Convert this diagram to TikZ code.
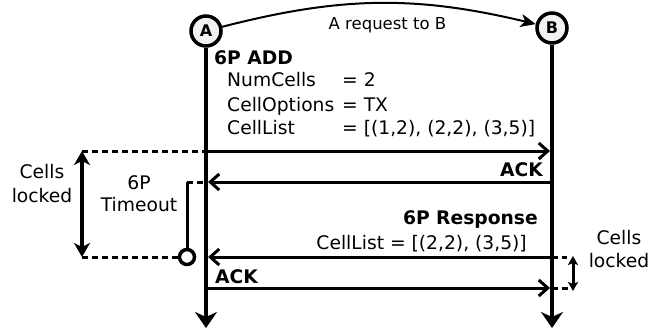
\documentclass[tikz,border=0pt]{standalone}
\usepackage{fontspec}
\setmainfont{DejaVu Sans}
\usepackage{tikz}
\usetikzlibrary{arrows.meta}
\definecolor{knoten}{RGB}{242,242,242}

\tikzset{
	entity/.style={circle, draw, line width=3.5pt, fill=knoten, minimum size=30pt, inner sep=0pt, font=\fontsize{16}{18}\selectfont\bfseries},
	lifeline/.style={line width=4.5pt, -{Stealth[length=16pt, width=22pt, inset=5pt]}},
	msg/.style={line width=3pt, -{Straight Barb[length=9pt, width=16pt]}},
	lbl/.style={inner sep=0pt, font=\fontsize{18.7}{22}\selectfont},
	dash line/.style={line width=3pt, dash pattern=on 6pt off 4pt},
	lock/.style={line width=3.5pt, {Stealth[length=14pt, width=16pt, inset=4pt]}-{Stealth[length=14pt, width=16pt, inset=4pt]}},
}

\begin{document}
\begin{tikzpicture}[x=1pt, y=-1pt]

	\useasboundingbox (0,0) rectangle (651,329);

	% the two nodes and their time lines
	\node[entity] (A) at (206,31) {A};
	\node[entity] (B) at (552,28) {B};
	\coordinate (Aend) at (206,328);
	\coordinate (Bend) at (552,328);
	\draw[lifeline] (A.south) -- (Aend);
	\draw[lifeline] (B.south) -- (Bend);

	\draw[line width=2pt, -{Stealth[length=15pt, width=13pt, inset=4pt]}] (A) to[bend left=14] (B);
	\node[lbl, font=\fontsize{16.5}{20}\selectfont, anchor=base] (req) at (387.5,30) {A request to B};

	% 6P ADD request
	\node[lbl, anchor=base west] (add) at (214,65) {\bfseries 6P ADD};
	\node[lbl, anchor=base west] (num) at (227,87) {NumCells};
	\node[lbl, anchor=base west] (opt) at (227,111) {CellOptions};
	\node[lbl, anchor=base west] (lst) at (227,135) {CellList};
	\node[lbl, anchor=base west] (numv) at (342,87) {= 2};
	\node[lbl, anchor=base west] (optv) at (342,111) {= TX};
	\node[lbl, anchor=base west] (lstv) at (342,135) {= [(1,2), (2,2), (3,5)]};

	\coordinate (a1) at (206,151);
	\coordinate (b1) at (552,151);
	\draw[msg, shorten >=2pt] (a1) -- (b1);

	% ACK of the request
	\node[lbl, anchor=base east] (ack1) at (543,176) {\bfseries ACK};
	\coordinate (b2) at (552,182);
	\coordinate (a2) at (206,182);
	\draw[msg, shorten >=2pt] (b2) -- (a2);

	% response
	\node[lbl, anchor=base east] (resp) at (538,224) {\bfseries 6P Response};
	\node[lbl, anchor=base east] (rlst) at (527,249) {CellList = [(2,2), (3,5)]};
	\coordinate (b3) at (552,257);
	\coordinate (a3) at (206,257);
	\draw[msg, shorten >=2pt] (b3) -- (a3);

	% ACK of the response
	\node[lbl, anchor=base west] (ack2) at (215,283) {\bfseries ACK};
	\coordinate (a4) at (206,288);
	\coordinate (b4) at (552,288);
	\draw[msg, shorten >=2pt] (a4) -- (b4);

	% timeout
	\node[circle, draw, line width=3.5pt, fill=white, minimum size=15pt, inner sep=0pt] (tout) at (187,257) {};
	\coordinate (ttop) at (187,182);
	\draw[line width=3pt] (ttop) -- (tout.north);
	\draw[dash line] (ttop) -- (a2);
	\node[lbl, align=center, anchor=base, font=\fontsize{18.7}{22.5}\selectfont] (tlbl) at (139,211.5) {6P\\Timeout};

	% cells locked at A
	\coordinate (l1) at (82,151);
	\coordinate (l2) at (82,257);
	\draw[dash line] (l1) -- (a1);
	\draw[dash line] (l2) -- (tout.west);
	\draw[lock] (l1) -- (l2);
	\node[lbl, align=center, anchor=base, font=\fontsize{18.7}{24}\selectfont] (llbl) at (42,202.5) {Cells\\locked};

	% cells locked at B
	\coordinate (r1) at (567,257);
	\coordinate (r2) at (573,288);
	\coordinate (r1a) at (573,256);
	\coordinate (r2a) at (573,291);
	\draw[dash line] (b3) -- (r1);
	\draw[dash line] (b4) -- (r2);
	\draw[line width=3pt, {Stealth[length=9pt, width=10pt, inset=2pt]}-{Stealth[length=9pt, width=10pt, inset=2pt]}] (r1a) -- (r2a);
	\node[lbl, align=center, anchor=base, font=\fontsize{18.7}{23}\selectfont] (rlbl) at (619,267.5) {Cells\\locked};

\end{tikzpicture}
\end{document}
